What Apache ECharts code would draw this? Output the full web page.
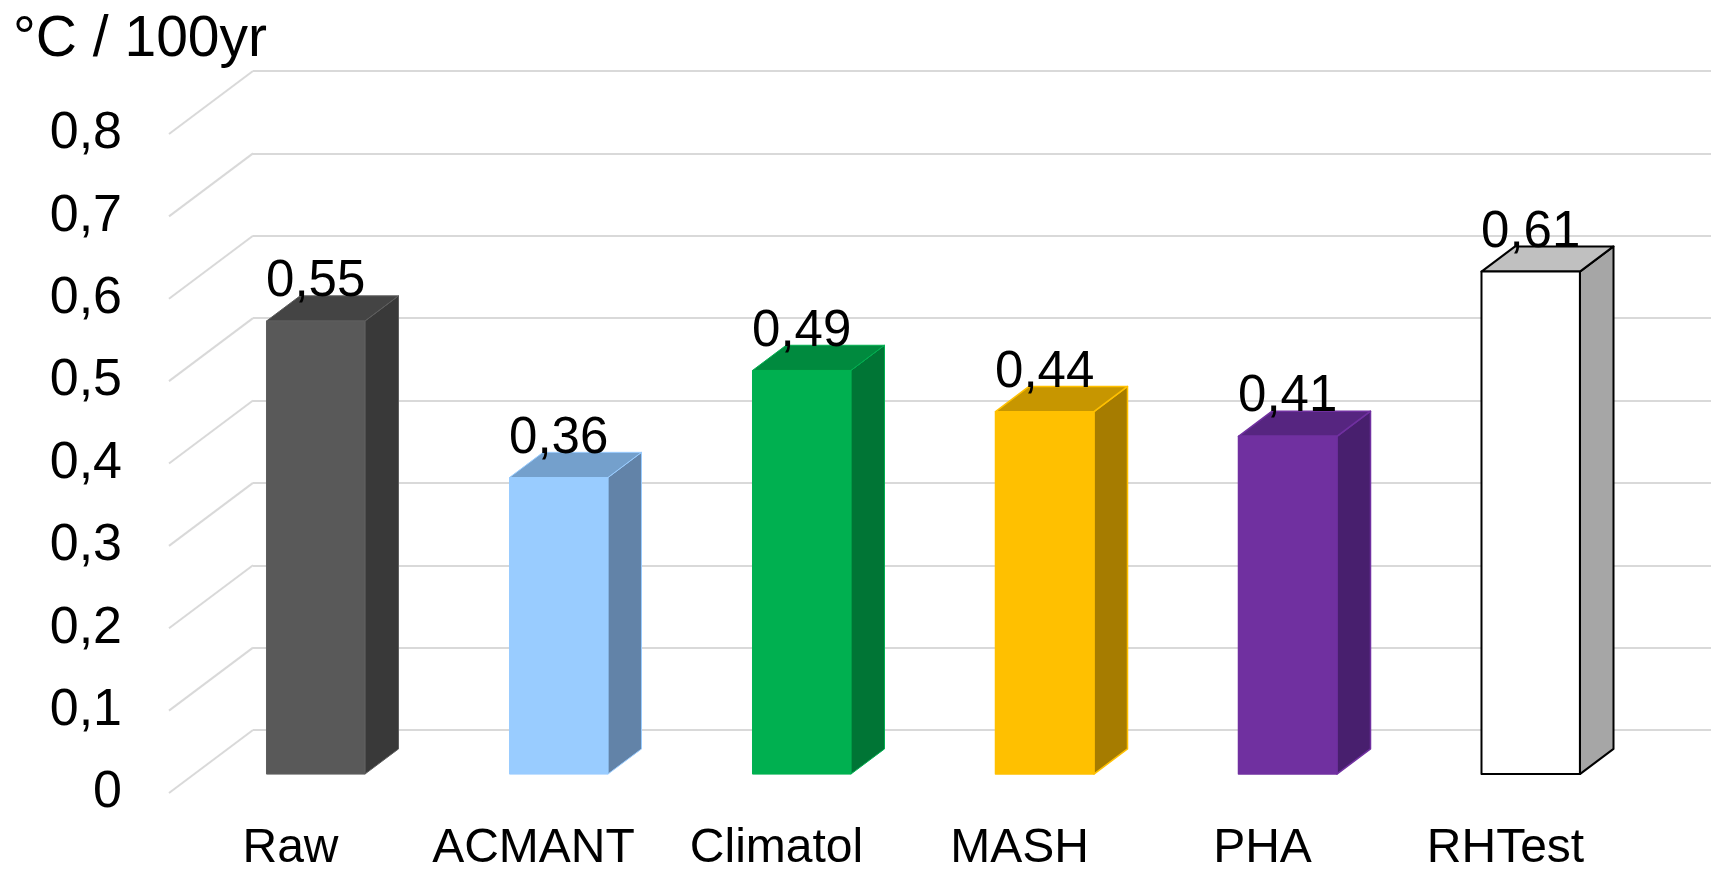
<!DOCTYPE html>
<html>
<head>
<meta charset="utf-8">
<script src="https://cdn.jsdelivr.net/npm/echarts@6/dist/echarts.min.js"></script>
<style>
  html, body { margin: 0; padding: 0; background: #ffffff; }
  #chart { width: 1715px; height: 871px; }
</style>
</head>
<body>
<div id="chart"></div>
<script>
// Homogenised temperature trends per method
const categories = ['Raw', 'ACMANT', 'Climatol', 'MASH', 'PHA', 'RHTest'];
const trendValues = [0.55, 0.36, 0.49, 0.44, 0.41, 0.61];
const yTicks = [0, 0.1, 0.2, 0.3, 0.4, 0.5, 0.6, 0.7, 0.8];
const unitLabel = '°C / 100yr';

// Face colours of each column: front, top, side, outline
const barStyles = [
  { front: '#595959', top: '#444444', side: '#393939', stroke: '#5e5e5e', lw: 1 },
  { front: '#99ccff', top: '#74a0cc', side: '#6283a8', stroke: '#99ccff', lw: 1 },
  { front: '#00b050', top: '#008a3e', side: '#007535', stroke: '#00b050', lw: 1 },
  { front: '#ffc000', top: '#c79600', side: '#a67c00', stroke: '#ffc000', lw: 1.5 },
  { front: '#7030a0', top: '#562580', side: '#481f6e', stroke: '#7030a0', lw: 1.5 },
  { front: '#ffffff', top: '#c0c0c0', side: '#a6a6a6', stroke: '#000000', lw: 2 }
];

// Oblique depth of the floor (front plane -> back wall)
const DEPTH_DX = 84;
const DEPTH_DY = -63;
// Column occupies this slice of the depth, and this share of a category
const COL_D0 = 0.3;
const COL_D1 = 0.7;
const COL_WIDTH = 0.405;

const FONT = '"Liberation Sans", Arial, Helvetica, sans-serif';
const GRID_COLOR = '#d9d9d9';

const fmt = v => String(+v.toFixed(2)).replace('.', ',');

const chart = echarts.init(document.getElementById('chart'), null, { renderer: 'canvas' });

const plotLeft = 169, plotTop = 134, plotW = 1458, plotH = 659;

chart.setOption({
  animation: false,
  backgroundColor: '#ffffff',
  title: {
    text: unitLabel,
    left: 8,
    top: 3,
    textStyle: { fontFamily: FONT, fontSize: 57, fontWeight: 'normal', color: '#000000', lineHeight: 64 }
  },
  grid: [
    // front plane: carries the tick labels and the columns
    { left: plotLeft, top: plotTop, width: plotW, height: plotH, containLabel: false, outerBoundsMode: 'none' },
    // back wall: carries the horizontal grid lines
    { left: plotLeft + DEPTH_DX, top: plotTop + DEPTH_DY, width: plotW, height: plotH, containLabel: false, outerBoundsMode: 'none' }
  ],
  xAxis: [
    {
      type: 'category', gridIndex: 0, data: categories,
      axisLine: { show: false }, axisTick: { show: false }, splitLine: { show: false },
      axisLabel: { fontFamily: FONT, fontSize: 48, lineHeight: 48, color: '#000000', margin: 32, interval: 0 }
    },
    {
      type: 'category', gridIndex: 1, data: categories,
      axisLine: { show: false }, axisTick: { show: false }, axisLabel: { show: false }, splitLine: { show: false }
    }
  ],
  yAxis: [
    {
      type: 'value', gridIndex: 0, min: 0, max: 0.8, interval: 0.1,
      axisLine: { show: false }, axisTick: { show: false }, splitLine: { show: false },
      axisLabel: { fontFamily: FONT, fontSize: 52, color: '#000000', margin: 47, formatter: fmt }
    },
    {
      type: 'value', gridIndex: 1, min: 0, max: 0.8, interval: 0.1,
      axisLine: { show: false }, axisTick: { show: false }, axisLabel: { show: false },
      splitLine: { show: true, lineStyle: { color: GRID_COLOR, width: 2 } }
    }
  ],
  series: [
    {
      // side wall: diagonals joining each tick on the front plane to the back wall
      type: 'custom',
      xAxisIndex: 0, yAxisIndex: 0,
      silent: true,
      z: 1,
      data: yTicks.map(v => [0, v]),
      renderItem: (params, api) => {
        const y = api.coord([0, api.value(1)])[1];
        const x = params.coordSys.x;
        return {
          type: 'line',
          shape: { x1: x, y1: y, x2: x + DEPTH_DX, y2: y + DEPTH_DY },
          style: { stroke: GRID_COLOR, lineWidth: 2 }
        };
      }
    },
    {
      // 3-D columns with value labels
      type: 'custom',
      xAxisIndex: 0, yAxisIndex: 0,
      silent: true,
      z: 2,
      data: trendValues.map((v, i) => [i, v]),
      renderItem: (params, api) => {
        const i = api.value(0);
        const v = api.value(1);
        const st = barStyles[i];
        const base = api.coord([i, 0]);
        const top = api.coord([i, v]);
        const catW = api.size([1, 0])[0];
        const w = catW * COL_WIDTH;
        const fx = base[0] + DEPTH_DX * COL_D0;
        const fyB = base[1] + DEPTH_DY * COL_D0;
        const fyT = top[1] + DEPTH_DY * COL_D0;
        const x0 = fx - w / 2, x1 = fx + w / 2;
        const dx = DEPTH_DX * (COL_D1 - COL_D0);
        const dy = DEPTH_DY * (COL_D1 - COL_D0);
        const edge = { stroke: st.stroke, lineWidth: st.lw, lineJoin: 'round' };
        return {
          type: 'group',
          children: [
            {
              type: 'polygon',
              shape: { points: [[x1, fyB], [x1 + dx, fyB + dy], [x1 + dx, fyT + dy], [x1, fyT]] },
              style: Object.assign({ fill: st.side }, edge)
            },
            {
              type: 'polygon',
              shape: { points: [[x0, fyT], [x1, fyT], [x1 + dx, fyT + dy], [x0 + dx, fyT + dy]] },
              style: Object.assign({ fill: st.top }, edge)
            },
            {
              type: 'rect',
              shape: { x: x0, y: fyT, width: w, height: fyB - fyT },
              style: Object.assign({ fill: st.front }, edge)
            },
            {
              type: 'text',
              z2: 10,
              style: {
                text: fmt(v),
                x: fx,
                y: fyT - 39,
                align: 'center',
                verticalAlign: 'middle',
                fill: '#000000',
                fontSize: 51,
                fontFamily: FONT
              }
            }
          ]
        };
      }
    }
  ]
});
</script>
</body>
</html>
